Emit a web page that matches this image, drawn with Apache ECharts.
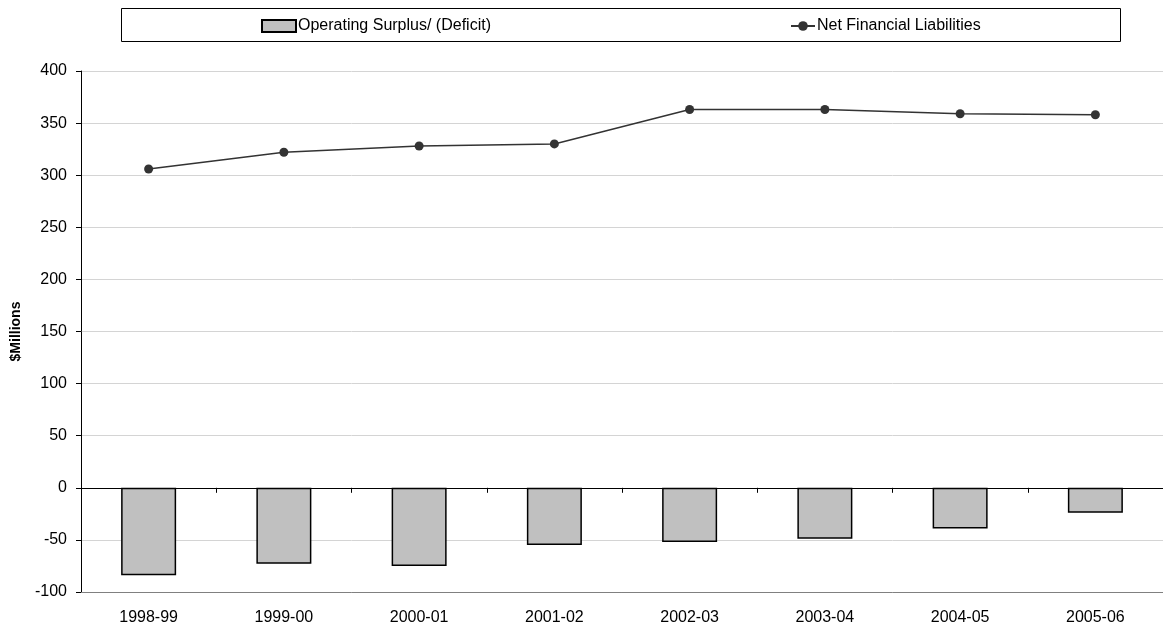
<!DOCTYPE html>
<html>
<head>
<meta charset="utf-8">
<script src="https://cdn.jsdelivr.net/npm/echarts@6/dist/echarts.min.js"></script>
<style>
  html, body { margin: 0; padding: 0; background: #fff; }
  #main { width: 1163px; height: 626px; }
</style>
</head>
<body>
<div id="main"></div>
<script>
var years = ['1998-99', '1999-00', '2000-01', '2001-02', '2002-03', '2003-04', '2004-05', '2005-06'];
var surplus = [-84, -73, -75, -55, -52, -49, -39, -24];
var liabilities = [306, 322, 328, 330, 363, 363, 359, 358];

var chartDom = document.getElementById('main');
var myChart = echarts.init(chartDom);
var option;

var font = 'Liberation Sans, Arial, sans-serif';

option = {
  animation: false,
  textStyle: { fontFamily: font },
  graphic: [
    {
      type: 'rect',
      shape: { x: 121.5, y: 8.5, width: 999, height: 33 },
      style: { fill: '#fff', stroke: '#000', lineWidth: 1 },
      z: -1
    }
  ],
  legend: [
    {
      data: [{ name: 'Operating Surplus/ (Deficit)', icon: 'rect' }],
      left: 261,
      top: 18,
      itemWidth: 34,
      itemHeight: 12,
      padding: 0,
      textStyle: { fontSize: 16, color: '#000', fontFamily: font, padding: [0, 0, 0, -3] }
    },
    {
      data: ['Net Financial Liabilities'],
      left: 790,
      top: 18,
      itemWidth: 24,
      itemHeight: 12,
      padding: 0,
      textStyle: { fontSize: 16, color: '#000', fontFamily: font, padding: [0, 0, 0, -3] }
    }
  ],
  grid: {
    left: 81,
    width: 1090,
    top: 71,
    height: 525
  },
  xAxis: [
    {
      type: 'category',
      data: years,
      axisLine: { onZero: false, lineStyle: { color: '#808080', width: 1 } },
      axisTick: { show: false },
      axisLabel: { color: '#000', fontSize: 16, margin: 18, fontFamily: font }
    },
    {
      type: 'category',
      data: years,
      position: 'bottom',
      axisLine: { onZero: true, lineStyle: { color: '#000', width: 1 } },
      axisTick: { show: true, inside: false, length: 5, lineStyle: { color: '#000' } },
      axisLabel: { show: false }
    }
  ],
  yAxis: {
    type: 'value',
    min: -100,
    max: 400,
    interval: 50,
    name: '$Millions',
    nameLocation: 'middle',
    nameGap: 58,
    nameTextStyle: { fontWeight: 'bold', fontSize: 14, color: '#000', fontFamily: font },
    axisLine: { show: true, lineStyle: { color: '#000', width: 1 } },
    axisTick: { show: true, length: 5, lineStyle: { color: '#000' } },
    axisLabel: { color: '#000', fontSize: 16, margin: 14, fontFamily: font },
    splitLine: { lineStyle: { color: '#d4d4d4', width: 1 } }
  },
  series: [
    {
      name: 'Operating Surplus/ (Deficit)',
      type: 'bar',
      data: surplus,
      barWidth: 55,
      itemStyle: { color: '#c0c0c0', borderColor: '#000', borderWidth: 1.5 }
    },
    {
      name: 'Net Financial Liabilities',
      type: 'line',
      data: liabilities,
      symbol: 'circle',
      symbolSize: 9,
      color: '#333333',
      lineStyle: { color: '#333333', width: 1.5 },
      itemStyle: { color: '#333333' }
    }
  ]
};

option && myChart.setOption(option);
</script>
</body>
</html>
